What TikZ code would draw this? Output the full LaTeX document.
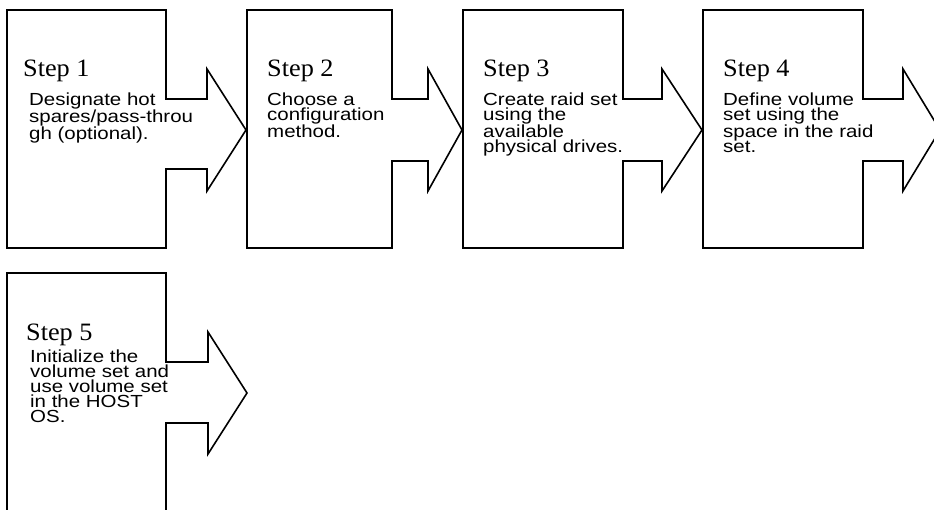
\documentclass[tikz,border=0pt]{standalone}
\usepackage{fontspec}
\newfontfamily\stepfont[FakeStretch=1.05]{Liberation Serif}
\newfontfamily\bodyfont[FakeStretch=1.17]{Liberation Sans}

\begin{document}
\begin{tikzpicture}[x=1pt,y=-1pt,
    stepline/.style={line width=1.6pt, line join=miter},
    steptitle/.style={anchor=base west, inner sep=0pt, font=\stepfont\fontsize{25}{28}\selectfont},
    steptext/.style={anchor=base west, inner sep=0pt, align=left, font=\bodyfont\fontsize{17.5}{15}\selectfont}]
  \clip (0,0) rectangle (934,510);

  % box outlines, each with its arrow
  \foreach \xl/\xr/\xh/\xt/\yo/\sb in {7/166/207/246/10/159, 247/392/428/462/10/151,
      463/623/662/702/10/151, 703/863/903/940/10/151, 7/166/208/247/273/150}
    \draw[stepline] (\xl,\yo) -- (\xr,\yo) -- (\xr,\yo+89) -- (\xh,\yo+89) -- (\xh,\yo+59)
      -- (\xt,\yo+120) -- (\xh,\yo+181) -- (\xh,\yo+\sb) -- (\xr,\yo+\sb)
      -- (\xr,\yo+238) -- (\xl,\yo+238) -- cycle;

  % titles
  \node[steptitle] (s1) at (23,77) {Step 1};
  \node[steptitle] (s2) at (267,77) {Step 2};
  \node[steptitle] (s3) at (483,77) {Step 3};
  \node[steptitle] (s4) at (723,77) {Step 4};
  \node[steptitle] (s5) at (26,341) {Step 5};

  % descriptions (anchored at the baseline of their last line)
  \node[steptext] (t1) at (29,140) {Designate hot\\spares/pass-throu\\gh (optional).};
  \node[steptext] (t2) at (267,138) {Choose a\\configuration\\method.};
  \node[steptext] (t3) at (483,153) {Create raid set\\using the\\available\\physical drives.};
  \node[steptext] (t4) at (723,153) {Define volume\\set using the\\space in the raid\\set.};
  \node[steptext] (t5) at (30,422) {Initialize the\\volume set and\\use volume set\\in the HOST\\OS.};
\end{tikzpicture}
\end{document}
